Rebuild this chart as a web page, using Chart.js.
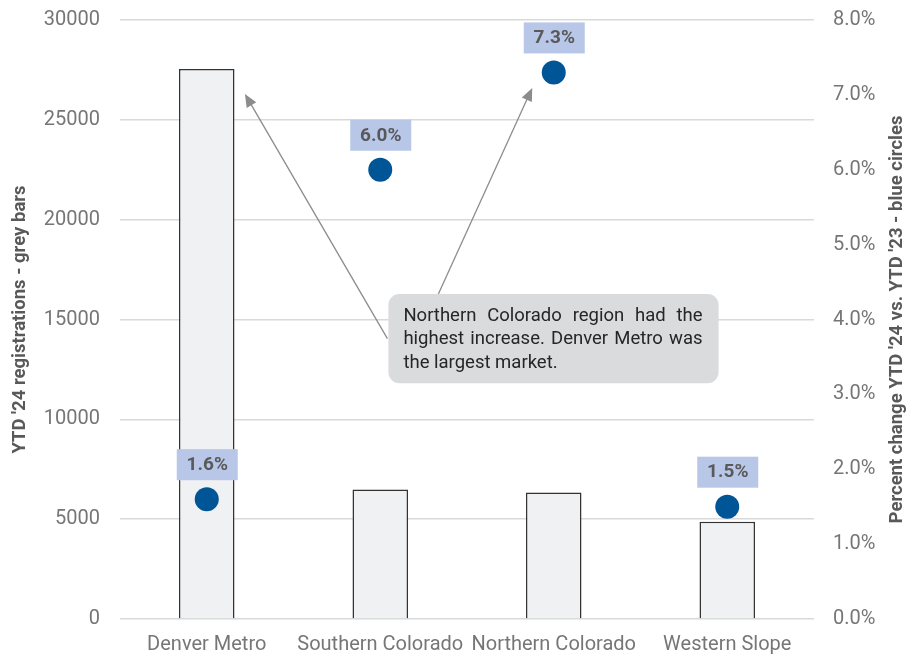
<!DOCTYPE html>
<html>
<head>
<meta charset="utf-8">
<script src="https://cdn.jsdelivr.net/npm/chart.js@4.4.1/dist/chart.umd.min.js"></script>
<style>
  html, body { margin: 0; padding: 0; background: #fff; }
  #wrap { width: 910px; height: 654px; }
</style>
</head>
<body>
<div id="wrap"><canvas id="chart" width="910" height="654"></canvas></div>
<script>
// Chart data
const categories = ['Denver Metro', 'Southern Colorado', 'Northern Colorado', 'Western Slope'];
const registrations = [27540, 6480, 6330, 4870];
const pctChange = [1.6, 6.0, 7.3, 1.5];
const noteLines = [
  'Northern Colorado region had the',
  'highest increase. Denver Metro was',
  'the largest market.'
];
const rightTitle = "Percent change YTD '24 vs. YTD '23 - blue circles";

const FONT = 'Roboto, "Liberation Sans", sans-serif';
const GREY_TEXT = '#595959';
const TICK_GREY = '#767676';

// Draw the % labels above the circles
const pointLabels = {
  id: 'pointLabels',
  afterDatasetsDraw(chart) {
    const ctx = chart.ctx;
    const meta = chart.getDatasetMeta(1);
    ctx.save();
    ctx.font = 'bold 19px ' + FONT;
    ctx.textAlign = 'center';
    ctx.textBaseline = 'middle';
    meta.data.forEach((pt, i) => {
      const cx = pt.x, cy = pt.y - 35;
      ctx.fillStyle = '#b8c6e8';
      ctx.fillRect(cx - 30, cy - 15, 61, 31);
      ctx.fillStyle = GREY_TEXT;
      ctx.fillText(pctChange[i].toFixed(1) + '%', cx + 0.5, cy + 1);
    });
    ctx.restore();
  }
};

// Callout box and arrows
function arrow(ctx, x1, y1, x2, y2) {
  const ang = Math.atan2(y2 - y1, x2 - x1);
  const len = 13, w = 5.5;
  ctx.beginPath();
  ctx.moveTo(x1, y1);
  ctx.lineTo(x2 - Math.cos(ang) * len * 0.8, y2 - Math.sin(ang) * len * 0.8);
  ctx.stroke();
  ctx.beginPath();
  ctx.moveTo(x2, y2);
  ctx.lineTo(x2 - Math.cos(ang) * len + Math.sin(ang) * w, y2 - Math.sin(ang) * len - Math.cos(ang) * w);
  ctx.lineTo(x2 - Math.cos(ang) * len - Math.sin(ang) * w, y2 - Math.sin(ang) * len + Math.cos(ang) * w);
  ctx.closePath();
  ctx.fill();
}

const callout = {
  id: 'callout',
  afterDraw(chart) {
    const ctx = chart.ctx;
    const x = chart.scales.x, y = chart.scales.y;
    const px = v => x.getPixelForValue(0) + v * (x.getPixelForValue(1) - x.getPixelForValue(0));
    const bx1 = px(1.047), bx2 = px(2.95);
    const by1 = y.getPixelForValue(16280), by2 = y.getPixelForValue(11810);

    ctx.save();
    ctx.strokeStyle = '#8c8c8c';
    ctx.fillStyle = '#8c8c8c';
    ctx.lineWidth = 1.3;
    arrow(ctx, bx1 - 1, (by1 + by2) / 2, px(0.22), y.getPixelForValue(26300));
    arrow(ctx, px(1.335), by1, px(1.876), y.getPixelForValue(26600));

    ctx.fillStyle = '#dadbdd';
    ctx.beginPath();
    ctx.roundRect(bx1, by1, bx2 - bx1, by2 - by1, 11);
    ctx.fill();

    ctx.fillStyle = '#262626';
    ctx.font = '18.5px ' + FONT;
    ctx.textBaseline = 'middle';
    const left = bx1 + 15, right = bx2 - 16;
    noteLines.forEach((line, i) => {
      const ly = by1 + 22 + i * 23.5;
      if (i < noteLines.length - 1) {
        // justified line
        const words = line.split(' ');
        const wordsW = words.reduce((s, w) => s + ctx.measureText(w).width, 0);
        const gap = Math.max((right - left - wordsW) / (words.length - 1), 3);
        let cx = left;
        words.forEach(w => {
          ctx.fillText(w, cx, ly);
          cx += ctx.measureText(w).width + gap;
        });
      } else {
        ctx.fillText(line, left, ly);
      }
    });

    // right axis title, reading bottom to top
    const a = chart.chartArea;
    ctx.translate(897, (a.top + a.bottom) / 2);
    ctx.rotate(-Math.PI / 2);
    ctx.font = 'bold 18.5px ' + FONT;
    ctx.fillStyle = GREY_TEXT;
    ctx.textAlign = 'center';
    ctx.fillText(rightTitle, 0, 0);
    ctx.restore();
  }
};

new Chart(document.getElementById('chart'), {
  data: {
    labels: categories,
    datasets: [
      {
        type: 'bar',
        data: registrations,
        yAxisID: 'y',
        backgroundColor: '#f0f1f3',
        borderColor: '#333333',
        borderWidth: 1.5,
        barPercentage: 0.64,
        categoryPercentage: 0.5,
        order: 1
      },
      {
        type: 'line',
        data: pctChange,
        yAxisID: 'y1',
        showLine: false,
        pointRadius: 12,
        pointHoverRadius: 12,
        pointBackgroundColor: '#005596',
        pointBorderWidth: 0,
        order: 0
      }
    ]
  },
  options: {
    responsive: false,
    animation: false,
    layout: { padding: { top: 20, left: 0, right: 0, bottom: 0 } },
    plugins: {
      legend: { display: false },
      tooltip: { enabled: false }
    },
    scales: {
      x: {
        grid: { display: false },
        border: { display: false },
        ticks: { color: TICK_GREY, font: { family: FONT, size: 20 }, padding: 6, maxRotation: 0 },
        afterFit(s) { s.height = 35; }
      },
      y: {
        position: 'left',
        min: 0, max: 30000,
        ticks: {
          stepSize: 5000,
          color: TICK_GREY,
          font: { family: FONT, size: 20 },
          padding: 20,
          callback: v => String(v)
        },
        grid: { color: '#d9d9d9', lineWidth: 1.5, drawTicks: false },
        border: { display: false },
        title: {
          display: true,
          text: "YTD '24 registrations - grey bars",
          color: GREY_TEXT,
          font: { family: FONT, size: 18.5, weight: 'bold' },
          padding: { top: 9, bottom: 0 }
        },
        afterFit(s) { s.width = 120; s.paddingTop = 0; s.paddingBottom = 0; }
      },
      y1: {
        position: 'right',
        min: 0, max: 8,
        ticks: {
          stepSize: 1,
          color: TICK_GREY,
          font: { family: FONT, size: 20 },
          padding: 19,
          callback: v => v.toFixed(1) + '%'
        },
        grid: { display: false, drawTicks: false },
        border: { display: false },
        afterFit(s) { s.width = 96; s.paddingTop = 0; s.paddingBottom = 0; }
      }
    }
  },
  plugins: [pointLabels, callout]
});
</script>
</body>
</html>
